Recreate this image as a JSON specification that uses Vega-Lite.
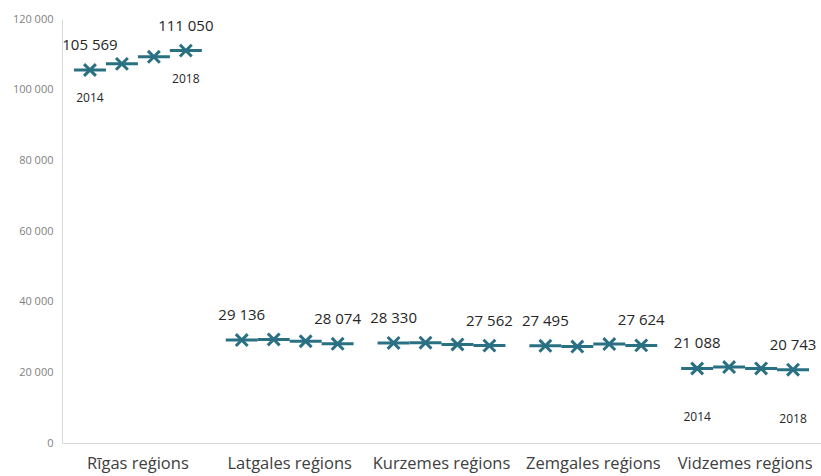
{
  "$schema": "https://vega.github.io/schema/vega-lite/v6.json",
  "width": 759,
  "height": 424,
  "autosize": {"type": "none"},
  "padding": {"left": 62, "top": 19, "right": 0, "bottom": 33},
  "background": "white",
  "config": {
    "view": {"stroke": null},
    "locale": {"number": {"decimal": ",", "thousands": " ", "grouping": [3], "currency": ["", ""]}},
    "font": "Open Sans"
  },
  "data": {
    "values": [
      {"region": "Rīgas reģions", "year": 2014, "value": 105569},
      {"region": "Rīgas reģions", "year": 2016, "value": 107300},
      {"region": "Rīgas reģions", "year": 2017, "value": 109300},
      {"region": "Rīgas reģions", "year": 2018, "value": 111050},
      {"region": "Latgales reģions", "year": 2014, "value": 29136},
      {"region": "Latgales reģions", "year": 2016, "value": 29300},
      {"region": "Latgales reģions", "year": 2017, "value": 28800},
      {"region": "Latgales reģions", "year": 2018, "value": 28074},
      {"region": "Kurzemes reģions", "year": 2014, "value": 28330},
      {"region": "Kurzemes reģions", "year": 2016, "value": 28400},
      {"region": "Kurzemes reģions", "year": 2017, "value": 27900},
      {"region": "Kurzemes reģions", "year": 2018, "value": 27562},
      {"region": "Zemgales reģions", "year": 2014, "value": 27495},
      {"region": "Zemgales reģions", "year": 2016, "value": 27300},
      {"region": "Zemgales reģions", "year": 2017, "value": 28000},
      {"region": "Zemgales reģions", "year": 2018, "value": 27624},
      {"region": "Vidzemes reģions", "year": 2014, "value": 21088},
      {"region": "Vidzemes reģions", "year": 2016, "value": 21500},
      {"region": "Vidzemes reģions", "year": 2017, "value": 21100},
      {"region": "Vidzemes reģions", "year": 2018, "value": 20743}
    ]
  },
  "encoding": {
    "x": {
      "field": "region", "type": "nominal", "sort": null,
      "scale": {"paddingInner": 0, "paddingOuter": 0},
      "axis": {
        "title": null, "labelAngle": 0, "ticks": false, "domainColor": "#d9d9d9", "domainWidth": 1,
        "labelFontSize": 16.5, "labelColor": "#404040", "labelPadding": 12
      }
    },
    "xOffset": {
      "field": "year", "type": "ordinal",
      "scale": {"paddingInner": 0, "paddingOuter": 0.375}
    },
    "y": {
      "field": "value", "type": "quantitative",
      "scale": {"domain": [0, 120000], "nice": false},
      "axis": {
        "title": null, "values": [0, 20000, 40000, 60000, 80000, 100000, 120000],
        "format": ",d", "grid": false, "ticks": false, "domain": true, "domainColor": "#d9d9d9",
        "labelFontSize": 11, "labelColor": "#7f7f7f", "labelPadding": 9
      }
    }
  },
  "layer": [
    {
      "mark": {"type": "tick", "orient": "horizontal", "size": 32, "thickness": 3, "color": "#2a7083", "opacity": 1}
    },
    {
      "mark": {"type": "point", "shape": "M-1,-1L1,1M-1,1L1,-1", "size": 140, "filled": false, "stroke": "#2a7083", "strokeWidth": 3, "opacity": 1}
    },
    {
      "transform": [{"filter": "datum.year == 2014 || datum.year == 2018"}],
      "mark": {"type": "text", "dy": -25, "fontSize": 15, "color": "#262626", "align": "center", "baseline": "middle"},
      "encoding": {"text": {"field": "value", "type": "quantitative", "format": ",d"}}
    },
    {
      "transform": [{"filter": "datum.region == 'Rīgas reģions' && (datum.year == 2014 || datum.year == 2018)"}],
      "mark": {"type": "text", "dy": 28, "fontSize": 12, "color": "#262626", "align": "center", "baseline": "middle"},
      "encoding": {"text": {"field": "year", "type": "ordinal"}}
    },
    {
      "transform": [{"filter": "datum.region == 'Vidzemes reģions' && (datum.year == 2014 || datum.year == 2018)"}],
      "mark": {"type": "text", "dy": 49, "fontSize": 12, "color": "#262626", "align": "center", "baseline": "middle"},
      "encoding": {"text": {"field": "year", "type": "ordinal"}}
    }
  ]
}
